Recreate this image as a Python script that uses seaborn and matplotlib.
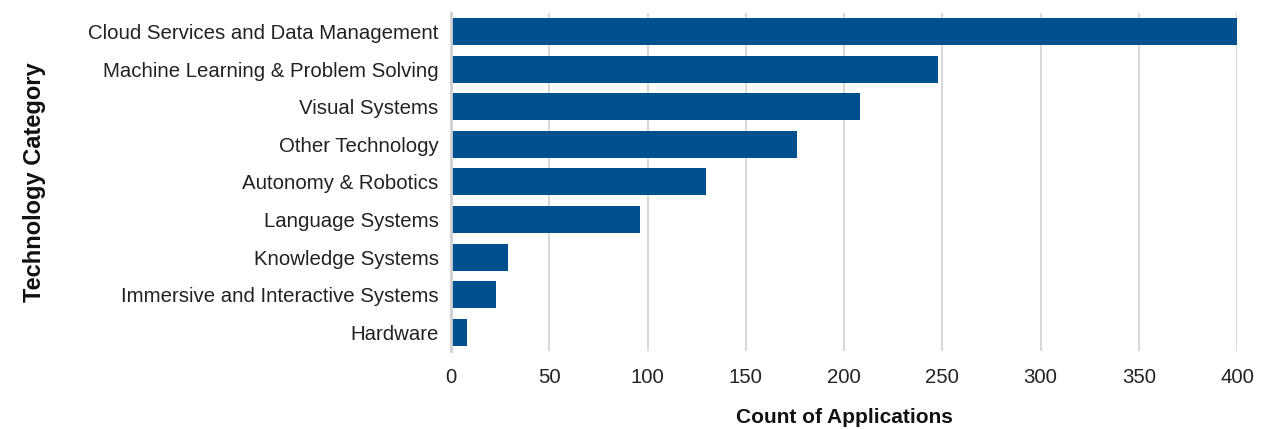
import matplotlib
matplotlib.use("Agg")
import matplotlib.pyplot as plt
import seaborn as sns
import pandas as pd

categories = [
    "Cloud Services and Data Management",
    "Machine Learning & Problem Solving",
    "Visual Systems",
    "Other Technology",
    "Autonomy & Robotics",
    "Language Systems",
    "Knowledge Systems",
    "Immersive and Interactive Systems",
    "Hardware",
]
counts = [400, 248, 208, 176, 130, 96, 29, 23, 8]
x_ticks = [0, 50, 100, 150, 200, 250, 300, 350, 400]

sns.set_theme(style="white")
plt.rcParams['font.family'] = ['Liberation Sans', 'DejaVu Sans']

df = pd.DataFrame({"Technology Category": categories, "Count of Applications": counts})

fig = plt.figure(figsize=(12.62, 4.29), dpi=100)
ax = fig.add_axes([0.3574, 0.1818, 0.6228, 0.7886])
sns.barplot(data=df, y="Technology Category", x="Count of Applications",
            color="#00508f", saturation=1, width=0.72, ax=ax, orient="h",
            linewidth=0)

ax.set_xlim(0, 400)
ax.set_xticks(x_ticks)
ax.set_xticklabels([str(t) for t in x_ticks])
ax.xaxis.grid(True, color="#d9d9d9", linewidth=1.5)
ax.set_axisbelow(True)
for s in ["top", "right", "bottom"]:
    ax.spines[s].set_visible(False)
ax.spines["left"].set_color("#d0d0d0")
ax.spines["left"].set_linewidth(2)
ax.tick_params(axis="both", length=0, labelsize=14.7, colors="#222222")
ax.tick_params(axis="x", pad=12)
ax.tick_params(axis="y", pad=9)
ax.set_xlabel("Count of Applications", fontsize=15, fontweight="bold", labelpad=15, color="#111111")
ax.set_ylabel("Technology Category", fontsize=17, fontweight="bold", labelpad=30, color="#111111")

fig.savefig("out.png", dpi=100)
